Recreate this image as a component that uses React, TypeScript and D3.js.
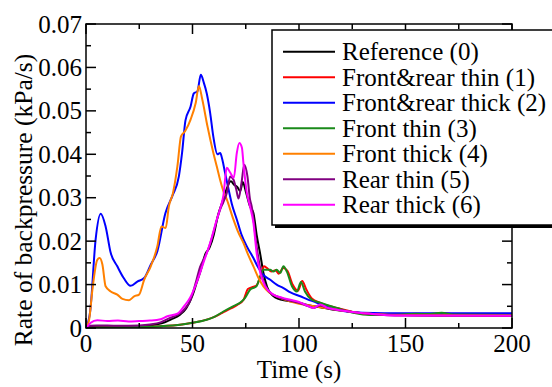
import React from "react";
import * as d3 from "d3";

const xTicks = [0, 50, 100, 150, 200];
const yTicks = [0, 0.01, 0.02, 0.03, 0.04, 0.05, 0.06, 0.07];
const yTickLabels = ["0", "0.01", "0.02", "0.03", "0.04", "0.05", "0.06", "0.07"];

const seriesNames = [
  "Reference (0)",
  "Front&rear thin (1)",
  "Front&rear thick (2)",
  "Front thin (3)",
  "Front thick (4)",
  "Rear thin (5)",
  "Rear thick (6)",
];
const seriesColors = ["#000000", "#ff0000", "#0000ff", "#1a8a1a", "#ff8000", "#800080", "#ff00ff"];

const reference0: [number, number][] = [
  [0, 0], [2, 0.0003], [5, 0.0004], [10, 0.0004], [20, 0.0004], [30, 0.0006], [35, 0.001], [40, 0.002],
  [44, 0.003], [47, 0.0045], [50, 0.0075], [52, 0.0105], [54, 0.0135], [56, 0.017], [58, 0.0185],
  [60, 0.0215], [62, 0.026], [64, 0.029], [66, 0.032], [68, 0.0338], [69.5, 0.033], [71, 0.0325],
  [72.4, 0.0315], [73.6, 0.0336], [75.2, 0.0311], [77, 0.028], [78.6, 0.0265], [80.1, 0.0215],
  [81.8, 0.017], [83.3, 0.0127], [85, 0.0095], [87, 0.0078], [89, 0.007], [92, 0.0065], [95, 0.0062],
  [100, 0.0058], [105, 0.0052], [110, 0.0048], [115, 0.0043], [120, 0.004], [130, 0.0034],
  [140, 0.0031], [150, 0.003], [170, 0.0029], [200, 0.0029],
];
const frontRearThin1: [number, number][] = [
  [0, 0], [5, 0.0001], [20, 0.0002], [35, 0.0004], [45, 0.0008], [50, 0.0012], [55, 0.0017],
  [60, 0.0025], [64, 0.0035], [68, 0.0045], [71, 0.0053], [74, 0.0065], [76, 0.009], [78, 0.0094],
  [80, 0.0098], [82, 0.012], [83.5, 0.0142], [85, 0.0138], [87, 0.013], [89, 0.0133], [90.5, 0.0125],
  [92.5, 0.0138], [94.5, 0.0132], [97, 0.01], [99.5, 0.0086], [101.5, 0.0108], [103.5, 0.0088],
  [106, 0.0068], [110, 0.0058], [118, 0.0046], [126, 0.0036], [134, 0.0031], [145, 0.003],
  [160, 0.0031], [168, 0.0034], [175, 0.003], [200, 0.0029],
];
const frontRearThick2: [number, number][] = [
  [0, 0], [2, 0.004], [4.5, 0.0203], [6.9, 0.0263], [9.2, 0.0234], [11.6, 0.0173], [14.7, 0.0142],
  [17.7, 0.0115], [20.9, 0.0097], [24.1, 0.0107], [27.3, 0.0115], [30.4, 0.0146], [33.5, 0.0177],
  [37.3, 0.0265], [40.6, 0.0305], [43.6, 0.0349], [45.1, 0.0403], [46.7, 0.0478], [49.1, 0.051],
  [50.6, 0.054], [52.3, 0.0545], [53.9, 0.0583], [55.3, 0.0565], [56.7, 0.054], [58.3, 0.0495],
  [59.8, 0.044], [61.7, 0.04], [63, 0.0403], [64, 0.0388], [65.3, 0.0357], [66.9, 0.032],
  [68.5, 0.0285], [70.8, 0.025], [73, 0.0215], [75.5, 0.0188], [78.6, 0.0161], [81, 0.0138],
  [83.3, 0.0122], [86.5, 0.0111], [89.5, 0.01], [92.7, 0.0092], [96, 0.0082], [100.6, 0.0073],
  [104, 0.0066], [108.4, 0.0058], [112, 0.005], [117.8, 0.0042], [124, 0.0037], [130, 0.0035],
  [140, 0.0034], [160, 0.0034], [200, 0.0034],
];
const frontThin3: [number, number][] = [
  [0, 0], [5, 0.0001], [20, 0.0002], [35, 0.0004], [45, 0.0008], [50, 0.0012], [56.7, 0.0019],
  [60, 0.0025], [64.5, 0.0038], [69, 0.005], [72.3, 0.0058], [74.6, 0.0069], [77, 0.0088],
  [80, 0.0096], [81.8, 0.0119], [83.3, 0.0134], [86.5, 0.0134], [88, 0.013], [89.5, 0.0134],
  [91.2, 0.0127], [92.7, 0.0142], [94.3, 0.013], [96.7, 0.0096], [99, 0.0084], [100.9, 0.0106],
  [102.8, 0.0084], [106, 0.0065], [110, 0.0058], [117.8, 0.0046], [125.6, 0.0035], [133.5, 0.003],
  [145, 0.003], [155, 0.0033], [160, 0.0032], [167, 0.0035], [172, 0.0031], [200, 0.003],
];
const frontThick4: [number, number][] = [
  [0, 0], [1.5, 0.002], [3, 0.0088], [5.3, 0.0157], [6.4, 0.0161], [7.7, 0.0146], [9.2, 0.0096],
  [11.6, 0.0084], [14.7, 0.0077], [17.1, 0.0067], [20.2, 0.0064], [22.6, 0.0073], [24.9, 0.0077],
  [27.3, 0.0111], [30.4, 0.0142], [33.5, 0.0188], [35.4, 0.0234], [37.4, 0.023], [38.9, 0.028],
  [40.8, 0.031], [42.9, 0.0372], [44.6, 0.0441], [46.5, 0.0453], [49.1, 0.048], [51.5, 0.0518],
  [53, 0.0557], [54.6, 0.0526], [57, 0.0465], [59.8, 0.0403], [61.5, 0.037], [63, 0.034],
  [64.5, 0.0315], [66.1, 0.0296], [69.2, 0.025], [71.5, 0.022], [73.9, 0.0196], [76, 0.017],
  [78.6, 0.0142], [81, 0.0115], [83.3, 0.0096], [86, 0.0082], [89.5, 0.0073], [95.9, 0.0061],
  [100, 0.0056], [105, 0.0052], [110, 0.0048], [120, 0.004], [130, 0.0034], [140, 0.0031],
  [150, 0.003], [200, 0.0029],
];
const rearThin5: [number, number][] = [
  [0, 0], [2, 0.0005], [5, 0.0006], [15, 0.0005], [25, 0.0006], [30, 0.0008], [35, 0.0013],
  [38, 0.002], [41.4, 0.0027], [44, 0.0033], [46, 0.0042], [49.1, 0.0065], [51.9, 0.0111],
  [53.5, 0.014], [55.1, 0.0157], [56.7, 0.0173], [58, 0.019], [59.8, 0.0219], [61.5, 0.025],
  [63, 0.0273], [64.5, 0.029], [66.1, 0.0311], [67.7, 0.0349], [69.2, 0.0342], [70.5, 0.032],
  [71.6, 0.0298], [73, 0.0334], [74.3, 0.0376], [75.8, 0.0349], [77, 0.0296], [77.8, 0.028],
  [80.1, 0.0188], [82.6, 0.0119], [84.5, 0.0095], [86.5, 0.0081], [90, 0.0072], [95, 0.0064],
  [100, 0.0058], [104.5, 0.005], [107, 0.0046], [110, 0.0052], [114, 0.0045], [118, 0.0042],
  [125, 0.0037], [133.5, 0.0032], [145, 0.0029], [200, 0.0028],
];
const rearThick6: [number, number][] = [
  [0, 0], [2.2, 0.0012], [5.3, 0.0018], [10, 0.0016], [15, 0.0017], [20, 0.0015], [25, 0.0016],
  [30, 0.0017], [35, 0.002], [38.2, 0.0027], [42.9, 0.0033], [46, 0.005], [48.8, 0.0069],
  [51.9, 0.0104], [55.1, 0.015], [58.3, 0.0196], [61.4, 0.025], [63, 0.0275], [64.5, 0.0305],
  [66.1, 0.0369], [67.7, 0.0358], [69.4, 0.0346], [70.8, 0.0403], [72, 0.0426], [73.2, 0.0415],
  [73.9, 0.038], [75.5, 0.0311], [77, 0.028], [78.6, 0.0242], [80.1, 0.0173], [81.8, 0.0127],
  [84.1, 0.0096], [88, 0.0077], [92, 0.007], [95.9, 0.0065], [100, 0.006], [104.5, 0.005],
  [106.8, 0.0046], [110, 0.0054], [113, 0.0047], [117.8, 0.0042], [125, 0.0037], [133.5, 0.0033],
  [145, 0.0029], [200, 0.0028],
];

const allSeries = [reference0, frontRearThin1, frontRearThick2, frontThin3, frontThick4, rearThin5, rearThick6];

const W = 552;
const H = 387;
const m = { left: 86, right: 512, top: 24, bottom: 328 };
const FONT = '"Liberation Serif"';

export default function App() {
  const x = d3.scaleLinear().domain([0, 200]).range([m.left, m.right]);
  const y = d3.scaleLinear().domain([0, 0.07]).range([m.bottom, m.top]);
  const line = d3
    .line<[number, number]>()
    .x((d) => x(d[0]))
    .y((d) => y(d[1]))
    .curve(d3.curveMonotoneX);

  const xMinor = d3.range(0, 201, 25);
  const yMinor = d3.range(0, 0.0701, 0.005);
  const majorLen = 10;
  const minorLen = 5;

  const legX = 272;
  const legY = 30;
  const legW = 300;
  const legH = 195;
  const rowY0 = 51.7;
  const rowStep = 25.5;
  const ts = { fontFamily: FONT };

  return (
    <svg width={W} height={H} style={{ position: "absolute", left: 0, top: 0, background: "#fff" }}>
      <rect x={0} y={0} width={W} height={H} fill="#fff" />
      <defs>
        <clipPath id="plotclip">
          <rect x={m.left} y={m.top - 2} width={m.right - m.left} height={m.bottom - m.top + 2} />
        </clipPath>
      </defs>
      <g clipPath="url(#plotclip)">
        {allSeries.map((s, i) => (
          <path key={i} d={line(s) || ""} fill="none" stroke={seriesColors[i]} strokeWidth={2} strokeLinejoin="round" />
        ))}
      </g>
      <rect x={m.left} y={m.top} width={m.right - m.left} height={m.bottom - m.top} fill="none" stroke="#000" strokeWidth={1.5} />
      {xMinor.map((t) => {
        const len = t % 50 === 0 ? majorLen : minorLen;
        return (
          <g key={"xt" + t}>
            <line x1={x(t)} x2={x(t)} y1={m.bottom} y2={m.bottom - len} stroke="#000" strokeWidth={1.5} />
            <line x1={x(t)} x2={x(t)} y1={m.top} y2={m.top + len} stroke="#000" strokeWidth={1.5} />
          </g>
        );
      })}
      {yMinor.map((v, k) => {
        const len = k % 2 === 0 ? majorLen : minorLen;
        return (
          <g key={"yt" + k}>
            <line x1={m.left} x2={m.left + len} y1={y(v)} y2={y(v)} stroke="#000" strokeWidth={1.5} />
            <line x1={m.right} x2={m.right - len} y1={y(v)} y2={y(v)} stroke="#000" strokeWidth={1.5} />
          </g>
        );
      })}
      {xTicks.map((t) => (
        <text key={"xl" + t} x={x(t)} y={352} textAnchor="middle" fontSize={25} fill="#000" style={ts}>
          {t}
        </text>
      ))}
      {yTicks.map((v, k) => (
        <text key={"yl" + k} x={m.left - 4} y={y(v) + 8.5} textAnchor="end" fontSize={25} fill="#000" style={ts}>
          {yTickLabels[k]}
        </text>
      ))}
      <text x={(m.left + m.right) / 2} y={378} textAnchor="middle" fontSize={25} fill="#000" style={ts}>
        Time (s)
      </text>
      <text transform={`translate(31.5, 200) rotate(-90)`} textAnchor="middle" fontSize={25.5} fill="#000" style={ts}>
        Rate of backpressure (kPa/s)
      </text>
      <rect x={legX + 3} y={legY + 3} width={legW} height={legH} fill="#000" />
      <rect x={legX} y={legY} width={legW} height={legH} fill="#fff" stroke="#000" strokeWidth={1.5} />
      {seriesNames.map((name, i) => (
        <g key={"lg" + i}>
          <line x1={283} x2={335} y1={rowY0 + i * rowStep} y2={rowY0 + i * rowStep} stroke={seriesColors[i]} strokeWidth={2} />
          <text x={342} y={rowY0 + i * rowStep + 8.5} fontSize={25} fill="#000" style={ts}>
            {name}
          </text>
        </g>
      ))}
    </svg>
  );
}
